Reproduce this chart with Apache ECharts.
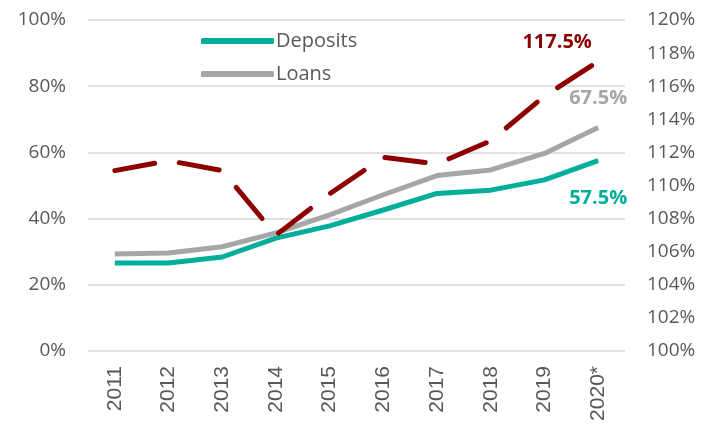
<!DOCTYPE html>
<html>
<head>
<meta charset="utf-8">
<script src="https://cdn.jsdelivr.net/npm/echarts@6/dist/echarts.min.js"></script>
<style>
  html, body { margin: 0; padding: 0; background: #fff; }
  #chart { width: 703px; height: 426px; }
</style>
</head>
<body>
<div id="chart"></div>
<script>
// 年份
const years = ['2011', '2012', '2013', '2014', '2015', '2016', '2017', '2018', '2019', '2020*'];
// 左轴 (%)
const deposits = [26.6, 26.6, 28.4, 34.1, 37.8, 42.6, 47.6, 48.6, 51.7, 57.5];
const loans = [29.3, 29.6, 31.5, 35.7, 41.1, 47.2, 53.0, 54.7, 59.7, 67.5];
// 右轴 (%)
const ratio = [110.9, 111.5, 110.9, 107.0, 109.5, 111.7, 111.3, 112.7, 115.4, 117.5];

const teal = '#00AE9A';
const grey = '#A6A6A6';
const darkRed = '#8E0000';
const labelFont = 'Open Sans';

// 只给最后一个点加标签
const withEndLabel = (arr, label) => arr.map((v, i) => i === arr.length - 1 ? {value: v, label: label} : v);

const endLabel = (color, extra) => Object.assign({
  show: true,
  formatter: (p) => p.value.toFixed(1) + '%',
  color: color,
  fontFamily: labelFont,
  fontWeight: 'bold',
  fontSize: 20
}, extra);

const chart = echarts.init(document.getElementById('chart'));

const option = {
  animation: false,
  grid: {left: 88, right: 78, top: 20, bottom: 75, containLabel: false},
  legend: {
    data: ['Deposits', 'Loans'],
    orient: 'vertical',
    left: 196,
    top: 26,
    itemWidth: 73,
    itemHeight: 6,
    itemGap: 13,
    icon: 'roundRect',
    textStyle: {fontFamily: labelFont, fontSize: 20, color: '#595959', padding: [0, 0, 0, -3]}
  },
  xAxis: {
    type: 'category',
    data: years,
    axisLine: {show: false},
    axisTick: {show: false},
    axisLabel: {
      rotate: 90,
      interval: 0,
      margin: 15,
      fontFamily: 'Liberation Sans',
      fontSize: 21,
      color: '#595959'
    }
  },
  yAxis: [
    {
      type: 'value',
      min: 0,
      max: 100,
      interval: 20,
      axisLabel: {formatter: '{value}%', margin: 22, fontFamily: labelFont, fontSize: 19, color: '#595959'},
      splitLine: {lineStyle: {color: '#D9D9D9', width: 1.5}}
    },
    {
      type: 'value',
      min: 100,
      max: 120,
      interval: 2,
      axisLabel: {formatter: '{value}%', margin: 22, fontFamily: labelFont, fontSize: 19, color: '#595959'},
      splitLine: {show: false}
    }
  ],
  series: [
    {
      name: 'Deposits',
      type: 'line',
      yAxisIndex: 0,
      symbol: 'circle',
      symbolSize: 0,
      itemStyle: {color: teal},
      lineStyle: {color: teal, width: 5},
      data: withEndLabel(deposits, endLabel(teal, {position: 'bottom', distance: 28}))
    },
    {
      name: 'Loans',
      type: 'line',
      yAxisIndex: 0,
      symbol: 'circle',
      symbolSize: 0,
      itemStyle: {color: grey},
      lineStyle: {color: grey, width: 5},
      data: withEndLabel(loans, endLabel(grey, {position: 'top', distance: 19}))
    },
    {
      name: 'Ratio',
      type: 'line',
      yAxisIndex: 1,
      symbol: 'circle',
      symbolSize: 0,
      itemStyle: {color: darkRed},
      lineStyle: {color: darkRed, width: 5, type: [40.5, 25], cap: 'round'},
      data: withEndLabel(ratio, endLabel(darkRed, {position: 'top', distance: 9, offset: [-41, 0]}))
    }
  ]
};

chart.setOption(option);
</script>
</body>
</html>
